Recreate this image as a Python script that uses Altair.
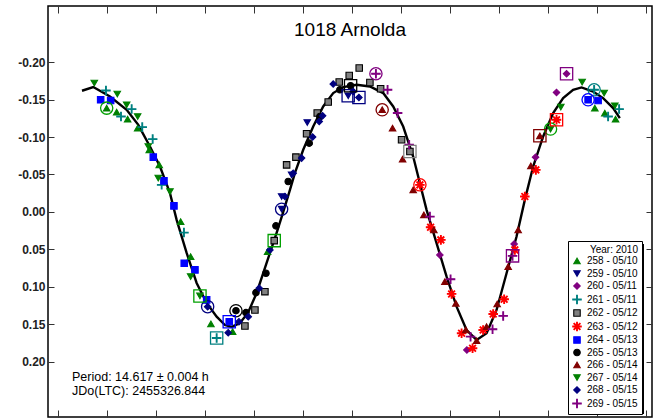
import altair as alt
import pandas as pd

# ---------------- data ----------------
series_labels = ["258 - 05/10", "259 - 05/10", "260 - 05/11", "261 - 05/11",
                 "262 - 05/12", "263 - 05/12", "264 - 05/13", "265 - 05/13",
                 "266 - 05/14", "267 - 05/14", "268 - 05/15", "269 - 05/15"]
fill_colors = ["#008000", "#000080", "#800080", "#008080", "#808080", "#FF0000",
               "#0000FF", "#000000", "#800000", "#008000", "#000080", "#800080"]
stroke_colors = ["#008000", "#000080", "#800080", "#008080", "#000000", "#FF0000",
                 "#0000FF", "#000000", "#800000", "#008000", "#000080", "#800080"]
PLUS = "M-1.3,-0.12H1.3V0.12H-1.3ZM-0.12,-1.3H0.12V1.3H-0.12Z"
ASTER = ("M-1.3,-0.12H1.3V0.12H-1.3ZM-0.12,-1.3H0.12V1.3H-0.12Z"
         "M-0.835,-1.005L1.005,0.835L0.835,1.005L-1.005,-0.835Z"
         "M0.835,-1.005L1.005,-0.835L-0.835,1.005L-1.005,0.835Z")
shapes = ["triangle-up", "triangle-down", "diamond", PLUS, "square", ASTER,
          "square", "circle", "triangle-up", "triangle-down", "diamond", PLUS]

s258_phase = [0.0988, 0.1192, 0.1416, 0.1620, 0.1857, 0.2061, 0.2498, 0.2702, 0.3116, 0.3559, 0.4273, 1.0953, 1.1157, 1.1376]
s258_mag = [-0.1386, -0.1333, -0.1239, -0.1119, -0.0829, -0.0628, 0.0130, 0.0598, 0.1497, 0.1600, 0.0531, -0.1386, -0.1320, -0.1239]

s259_phase = [0.4559, 0.4559, 0.4763, 0.5082, 0.5918]
s259_mag = [-0.0036, -0.0205, -0.0495, -0.1194, -0.1551]

s260_phase = [0.7790, 0.8341, 0.9306, 0.9743, 1.0171, 1.0376]
s260_mag = [0.0575, 0.1845, 0.0428, -0.0731, -0.1595, -0.1845]

s261_phase = [0.0973, 0.1280, 0.1498, 0.1714, 0.1927, 0.2110, 0.2565, 0.3233, 1.0939, 1.1224, 1.1449]
s261_mag = [-0.1622, -0.1274, -0.1373, -0.1132, -0.0972, -0.0361, 0.0277, 0.1684, -0.1631, -0.1274, -0.1373]

s262_phase = [0.3810, 0.4014, 0.4218, 0.4408, 0.4661, 0.4851, 0.5069, 0.5286, 0.5510, 0.5735, 0.5939, 0.6143, 0.6361, 0.6580, 0.7008, 0.7178]
s262_mag = [0.1524, 0.1310, 0.1066, 0.0384, -0.0628, -0.0731, -0.1043, -0.1320, -0.1467, -0.1734, -0.1822, -0.1921, -0.1729, -0.1644, -0.0963, -0.0806]

s263_phase = [0.7382, 0.7600, 0.7810, 0.8029, 0.8233, 0.8457, 0.8673, 0.8878, 0.9102, 0.9320, 0.9524, 0.9749, 1.0171]
s263_mag = [-0.0361, 0.0205, 0.0374, 0.1096, 0.1622, 0.1822, 0.1578, 0.1364, 0.1167, 0.0508, -0.0205, -0.0561, -0.1230]

s264_phase = [0.0865, 0.1069, 0.1939, 0.2157, 0.2361, 0.2571, 0.2790, 0.3029, 0.3490, 1.0816, 1.1020]
s264_mag = [-0.1497, -0.1488, -0.0731, -0.0414, -0.0080, 0.0686, 0.0775, 0.1176, 0.1467, -0.1497, -0.1488]

s265_phase = [0.3627, 0.3831, 0.4035, 0.4239, 0.4443, 0.4694, 0.5122, 0.5341, 0.5749, 0.5967]
s265_mag = [0.1320, 0.1346, 0.1079, 0.0820, 0.0187, -0.0405, -0.0918, -0.1274, -0.1631, -0.1684]

s266_phase = [0.6612, 0.6824, 0.7029, 0.7245, 0.7463, 0.7667, 0.7892, 0.8116, 0.8320, 0.8539, 0.8743, 0.8959, 0.9184, 0.9388, 0.9647, 0.9831]
s266_mag = [-0.1364, -0.1119, -0.0705, -0.0294, 0.0040, 0.0241, 0.0932, 0.1221, 0.1578, 0.1721, 0.1533, 0.1230, 0.0731, 0.0241, -0.0615, -0.1016]

s267_phase = [0.0735, 0.1204, 0.1396, 0.1620, 0.1837, 0.2041, 0.2280, 0.2702, 0.2892, 1.0049, 1.0259, 1.0694, 1.1143, 1.1361]
s267_mag = [-0.1721, -0.1574, -0.1430, -0.1274, -0.0873, -0.0451, -0.0271, 0.0865, 0.1123, -0.1106, -0.1400, -0.1734, -0.1587, -0.1417]

s268_phase = [0.3049, 0.3469, 0.3688, 0.3878, 0.4102, 0.4320, 0.4627, 0.4796, 0.4967, 0.5192, 0.5327, 0.5396, 0.5612, 0.6020, 0.6137]
s268_mag = [0.1266, 0.1614, 0.1467, 0.1400, 0.1020, 0.0508, -0.0205, -0.0517, -0.0718, -0.0999, -0.1207, -0.1283, -0.1707, -0.1608, -0.1528]

s269_phase = [0.6484, 0.6722, 0.6927, 0.7163, 0.7586, 0.8008, 0.8416, 0.8865, 0.9082, 0.9273]
s269_mag = [-0.1845, -0.1631, -0.1320, -0.0896, 0.0063, 0.0900, 0.1667, 0.1568, 0.1390, 0.0588]

# fitted Fourier curve
curve_phase = [0.0484, 0.0714, 0.1055, 0.1396, 0.1633, 0.1871, 0.2076, 0.2280, 0.2416, 0.2620,
               0.2824, 0.3029, 0.3233, 0.3402, 0.3539, 0.3708, 0.3871, 0.4049, 0.4253, 0.4457,
               0.4586, 0.4729, 0.4831, 0.5000, 0.5204, 0.5408, 0.5612, 0.5816, 0.6090, 0.6361,
               0.6633, 0.6837, 0.7041, 0.7245, 0.7347, 0.7518, 0.7722, 0.7927, 0.8131, 0.8335,
               0.8539, 0.8743, 0.8947, 0.9151, 0.9355, 0.9524, 0.9694, 0.9898, 1.0102, 1.0306,
               1.0510, 1.0682, 1.0918, 1.1122, 1.1327, 1.1463]
curve_mag = [-0.1618, -0.1667, -0.1541, -0.1364, -0.1163, -0.0873, -0.0606, -0.0250, 0.0107, 0.0548,
             0.0949, 0.1217, 0.1400, 0.1511, 0.1537, 0.1484, 0.1350, 0.1083, 0.0682, 0.0281,
             0.0013, -0.0294, -0.0521, -0.0829, -0.1140, -0.1408, -0.1587, -0.1667, -0.1698, -0.1675,
             -0.1587, -0.1408, -0.1140, -0.0739, -0.0472, -0.0027, 0.0418, 0.0865, 0.1266, 0.1578,
             0.1711, 0.1622, 0.1310, 0.0820, 0.0330, -0.0160, -0.0606, -0.1007, -0.1320, -0.1520,
             -0.1631, -0.1662, -0.1608, -0.1520, -0.1386, -0.1253]

# highlighted (boxed / circled) observations
hl_phase = [0.0988, 0.3049, 0.3627, 0.4559, 0.6484, 0.6612, 0.7382, 1.0049, 1.0939, 1.0816,
            0.2892, 0.3490, 0.3233, 0.4408, 0.5918, 0.6137, 0.5967, 0.7178, 0.9273, 1.0376, 0.9831, 1.0171]
hl_mag = [-0.1386, 0.1266, 0.1320, -0.0036, -0.1845, -0.1364, -0.0361, -0.1106, -0.1631, -0.1497,
          0.1123, 0.1467, 0.1684, 0.0384, -0.1551, -0.1528, -0.1684, -0.0806, 0.0588, -0.1845, -0.1016, -0.1230]
hl_shape = ["circle"] * 10 + ["square"] * 12
hl_color = ["#00A000", "#000080", "#000000", "#000080", "#800080", "#800000", "#FF0000", "#00A000", "#008080", "#0000FF",
            "#00A000", "#0000FF", "#008080", "#00A000", "#000080", "#000080", "#000000", "#808080", "#800080", "#800080", "#800000", "#FF0000"]

x_ticks = [0.0, 0.1, 0.2, 0.3, 0.4, 0.5, 0.6, 0.7, 0.8, 0.9, 1.0, 1.1, 1.2]
y_ticks = [-0.20, -0.15, -0.10, -0.05, 0.00, 0.05, 0.10, 0.15, 0.20]
title_text = ["1018 Arnolda"]
info_lines = ["Period: 14.617 ± 0.004 h", "JDo(LTC): 2455326.844"]
legend_title = "Year: 2010"

# ---------------- build tables ----------------
all_phase = [s258_phase, s259_phase, s260_phase, s261_phase, s262_phase, s263_phase,
             s264_phase, s265_phase, s266_phase, s267_phase, s268_phase, s269_phase]
all_mag = [s258_mag, s259_mag, s260_mag, s261_mag, s262_mag, s263_mag,
           s264_mag, s265_mag, s266_mag, s267_mag, s268_mag, s269_mag]
rows = []
for i, lab in enumerate(series_labels):
    for p, m in zip(all_phase[i], all_mag[i]):
        rows.append({"phase": p, "mag": m, "series": lab, "k": i})
pts = pd.DataFrame(rows)
curve = pd.DataFrame({"phase": curve_phase, "mag": curve_mag, "o": list(range(len(curve_phase)))})
hl = pd.DataFrame({"phase": hl_phase, "mag": hl_mag, "shape": hl_shape, "col": hl_color})

FONT = "Liberation Sans"
xscale = alt.Scale(domain=[-0.021, 1.212], nice=False, zero=False)
yscale = alt.Scale(domain=[-0.275, 0.274], nice=False, zero=False, reverse=True)

ylab = "datum.value < -0.0001 ? '-' + format(-datum.value, '.2f') : format(abs(datum.value), '.2f')"

line = alt.Chart(curve).mark_line(color="black", strokeWidth=2.4).encode(
    x=alt.X("phase:Q", scale=xscale,
            axis=alt.Axis(orient="bottom", values=x_ticks, labels=False, tickSize=7, offset=-7,
                          domain=False, grid=False, title=None, tickColor="#333333")),
    y=alt.Y("mag:Q", scale=yscale,
            axis=alt.Axis(orient="left", values=y_ticks, labelExpr=ylab, labelFont=FONT,
                          labelFontSize=12, labelFontWeight="bold", labelColor="#222222",
                          tickSize=6, offset=-6, labelPadding=3, domain=False, grid=False,
                          title=None, tickColor="#333333")),
    order="o:Q",
)

points = alt.Chart(pts).mark_point(filled=True, size=42, strokeWidth=1.1, opacity=1).encode(
    x=alt.X("phase:Q", scale=xscale,
            axis=alt.Axis(orient="top", values=x_ticks, labels=False, tickSize=7, offset=-7,
                          domain=False, grid=False, title=None, tickColor="#333333")),
    y=alt.Y("mag:Q", scale=yscale,
            axis=alt.Axis(orient="right", values=y_ticks, labels=False, tickSize=6, offset=-6,
                          domain=False, grid=False, title=None, tickColor="#333333")),
    fill=alt.Fill("series:N", scale=alt.Scale(domain=series_labels, range=fill_colors),
                  legend=alt.Legend(title=legend_title, orient="none", legendX=520, legendY=235,
                                    fillColor="white", strokeColor="black", padding=4,
                                    titleAlign="right", titleAnchor="end", titleFont=FONT,
                                    titleFontSize=10, titleFontWeight="normal", titleColor="black",
                                    titlePadding=1, labelFont=FONT, labelFontSize=10,
                                    labelColor="black", labelOffset=5, rowPadding=0.5,
                                    symbolSize=42, symbolStrokeWidth=1.1, symbolType="circle")),
    stroke=alt.Stroke("series:N", scale=alt.Scale(domain=series_labels, range=stroke_colors),
                      legend=alt.Legend(title=legend_title)),
    shape=alt.Shape("series:N", scale=alt.Scale(domain=series_labels, range=shapes),
                    legend=alt.Legend(title=legend_title)),
    order="k:Q",
)

rings = alt.Chart(hl).mark_point(filled=False, size=150, strokeWidth=1.3, opacity=1).encode(
    x=alt.X("phase:Q", scale=xscale, axis=None),
    y=alt.Y("mag:Q", scale=yscale, axis=None),
    shape=alt.Shape("shape:N", scale=None),
    stroke=alt.Stroke("col:N", scale=None),
)

# drop shadow behind the legend box
shadow = alt.Chart(alt.Data(values=[{"a": 1}])).mark_rect(color="black").encode(
    x=alt.value(523), x2=alt.value(596), y=alt.value(238), y2=alt.value(408)
)

title = alt.Chart(alt.Data(values=[{"t": title_text[0]}])).mark_text(
    font=FONT, fontSize=19, color="black", align="center", baseline="middle"
).encode(x=alt.value(302), y=alt.value(23.5), text="t:N")

info1 = alt.Chart(alt.Data(values=[{"t": info_lines[0]}])).mark_text(
    font=FONT, fontSize=12.5, color="black", align="left", baseline="middle"
).encode(x=alt.value(24), y=alt.value(371), text="t:N")
info2 = alt.Chart(alt.Data(values=[{"t": info_lines[1]}])).mark_text(
    font=FONT, fontSize=12.5, color="black", align="left", baseline="middle"
).encode(x=alt.value(24), y=alt.value(385), text="t:N")

chart = alt.layer(line, shadow, points, rings, title, info1, info2).resolve_axis(
    x="independent", y="independent"
).properties(
    width=604, height=411,
    autosize=alt.AutoSizeParams(type="none"),
    padding={"left": 48, "top": 6, "right": 5, "bottom": 3},
    background="white",
).configure_view(stroke="black", strokeWidth=1.5)

chart.save("out.html", embed_options={"renderer": "svg", "actions": False})
